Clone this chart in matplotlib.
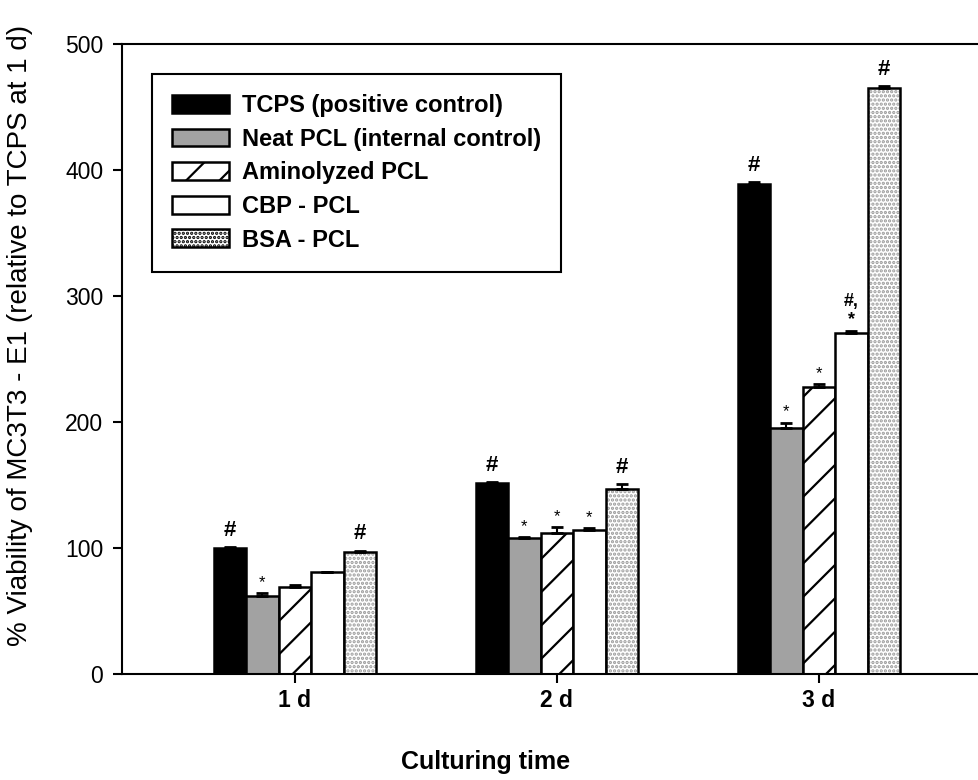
import matplotlib
matplotlib.use("Agg")
from matplotlib import pyplot as plt
from matplotlib.patches import Patch
import numpy as np

plt.rcParams['font.family'] = ['Liberation Sans', 'DejaVu Sans']
plt.rcParams['hatch.linewidth'] = 1.6

# data
days = ['1 d', '2 d', '3 d']
series = ['TCPS (positive control)', 'Neat PCL (internal control)',
          'Aminolyzed PCL', 'CBP - PCL', 'BSA - PCL']
tcps = [100, 152, 389]
neat = [62, 108, 195]
amino = [69, 112, 228]
cbp = [81, 114, 271]
bsa = [96.5, 147, 465]
tcps_err = [1, 0.5, 1.5]
neat_err = [2, 0.5, 4.5]
amino_err = [1.5, 4.5, 2]
cbp_err = [0, 2, 1.5]
bsa_err = [1.5, 4, 1.5]
marks = [['#', '*', '', '', '#'],
         ['#', '*', '*', '*', '#'],
         ['#', '*', '*', '#,\n*', '#']]

values = [tcps, neat, amino, cbp, bsa]
errors = [tcps_err, neat_err, amino_err, cbp_err, bsa_err]

fig = plt.figure(figsize=(9.79, 7.8), dpi=100)
ax = fig.add_axes([122/979, 1-674/780, 1-122/979, (674-44.3)/780])

x = np.arange(1, 4)
w = 0.124
gray = '#a2a2a2'
styles = [dict(color='black', edgecolor='black'),
          dict(color=gray, edgecolor='black'),
          dict(color='white', edgecolor='black', hatch='/'),
          dict(color='white', edgecolor='black'),
          dict(color='white', edgecolor='black')]

for i in range(5):
    pos = x + (i - 2) * w
    if i == 4:
        # dotted fill drawn first, black outline on top
        ax.bar(pos, values[i], w, color='white', edgecolor='#9a9a9a',
               hatch='....', linewidth=0, zorder=2)
        ax.bar(pos, values[i], w, fill=False, edgecolor='black',
               linewidth=1.8, zorder=3)
    else:
        ax.bar(pos, values[i], w, linewidth=1.8, zorder=2, **styles[i])
    ax.errorbar(pos, values[i], yerr=[[0]*3, errors[i]], fmt='none',
                ecolor='black', elinewidth=1.5, capsize=4.5, capthick=2,
                zorder=4)
    for j in range(3):
        m = marks[j][i]
        if not m:
            continue
        top = values[i][j] + errors[i][j]
        if m == '#':
            ax.text(pos[j], top + 5, m, ha='center', va='bottom',
                    fontsize=16, fontweight='bold', zorder=5)
        elif m == '*':
            ax.text(pos[j], top + 2.5, m, ha='center', va='bottom',
                    fontsize=12, zorder=5)
        else:
            ax.text(pos[j], top + 2.5, m, ha='center', va='bottom',
                    fontsize=13, fontweight='bold', linespacing=1.05,
                    zorder=5)

leg_handles = [Patch(facecolor='black', edgecolor='black', linewidth=1.8),
               Patch(facecolor=gray, edgecolor='black', linewidth=1.8),
               Patch(facecolor='white', edgecolor='black', hatch='/', linewidth=1.8),
               Patch(facecolor='white', edgecolor='black', linewidth=1.8),
               Patch(facecolor='white', edgecolor='black', hatch='....', linewidth=1.8)]
leg = ax.legend(leg_handles, series, loc='upper left',
                bbox_to_anchor=(152/979, 1-74/780), bbox_transform=fig.transFigure,
                borderaxespad=0, fancybox=False, framealpha=1, edgecolor='black',
                prop=dict(size=17, weight='bold'), handlelength=2.4,
                handleheight=0.78, handletextpad=0.55, labelspacing=0.45,
                borderpad=0.85)
leg.get_frame().set_linewidth(1.5)

ax.set_xlim(0.34, 3.611)
ax.set_ylim(0, 500)
ax.set_yticks([0, 100, 200, 300, 400, 500])
ax.set_xticks(x)
ax.set_xticklabels(days, fontsize=16.5, fontweight='bold')
ax.tick_params(axis='y', labelsize=16.5, width=1.5, length=6.5, pad=7)
ax.tick_params(axis='x', width=1.5, length=6.5, pad=4)
ax.spines['right'].set_visible(False)
for s in ['left', 'top', 'bottom']:
    ax.spines[s].set_linewidth(1.5)

fig.text(20/979, 1-335/780, '% Viability of MC3T3 - E1 (relative to TCPS at 1 d)',
         rotation=90, ha='center', va='center', fontsize=20)
fig.text(486/979, 1-762/780, 'Culturing time', ha='center', va='center',
         fontsize=18, fontweight='bold')

plt.savefig('out.png', dpi=100)
